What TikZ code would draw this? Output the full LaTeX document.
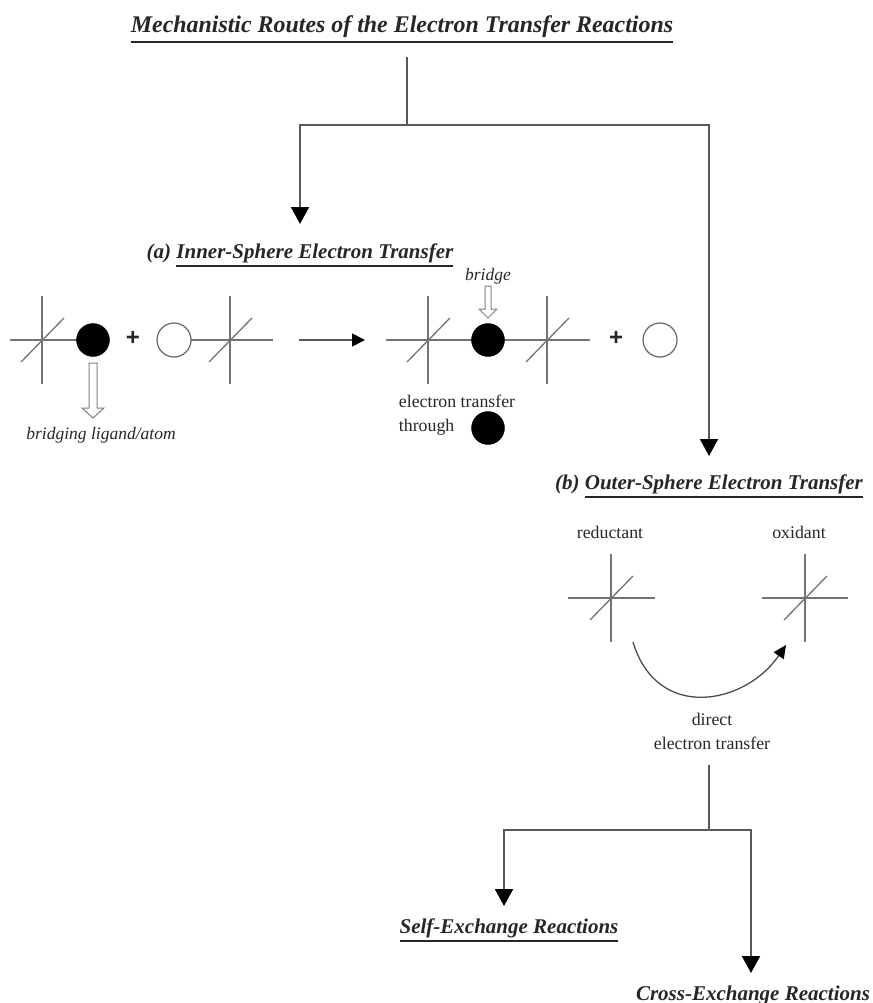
\documentclass[tikz,border=0pt]{standalone}
\usepackage{fontspec}
\setmainfont{Liberation Serif}
\newfontfamily\plusfont{Liberation Sans}
\newcommand{\thickline}[1]{\vtop{\hbox{#1}\kern3pt\hrule height 2pt}}
\usetikzlibrary{arrows.meta}
\begin{document}
\begin{tikzpicture}[x=1pt, y=-1pt, font=\fontsize{14}{17}\selectfont, text=black!85]
    \tikzstyle{flowline}=[draw=black!65, line width=2pt]
    \tikzstyle{flowarrow}=[flowline, -{Triangle[length=17pt, width=18pt, color=black]}]
    \tikzstyle{bond}=[draw=black!55, line width=1.8pt]
    \tikzstyle{thinbond}=[draw=black!55, line width=1.3pt]
    \tikzstyle{hollow}=[draw=black!50, line width=1pt, fill=white]
    \tikzstyle{fullatom}=[circle, fill=black, draw=black, inner sep=0pt, minimum size=33pt]
    \tikzstyle{openatom}=[circle, fill=white, draw=black!60, line width=1.2pt, inner sep=0pt, minimum size=34pt]
    \tikzstyle{heading}=[anchor=base, font=\fontsize{21}{24}\selectfont\bfseries\itshape]
    \tikzstyle{note}=[font=\fontsize{17.5}{20}\selectfont\itshape]
    \tikzstyle{plain}=[align=center, font=\fontsize{17.8}{24}\selectfont]
    \tikzstyle{plussign}=[font=\fontsize{24}{24}\selectfont\plusfont\bfseries]

    \useasboundingbox (0,0) rectangle (872,1003);

    % headings
    \node[heading, font=\fontsize{23.9}{26}\selectfont\bfseries\itshape] (title) at (402,33) {\thickline{Mechanistic Routes of the Electron Transfer Reactions}};
    \node[heading] (inner) at (300,258) {(a) \thickline{Inner-Sphere Electron Transfer}};
    \node[heading] (outer) at (709,489) {(b) \thickline{Outer-Sphere Electron Transfer}};
    \node[heading] (self) at (509,933) {\thickline{Self-Exchange Reactions}};
    \node[heading] (cross) at (753,1000) {\thickline{Cross-Exchange Reactions}};

    % top branching
    \coordinate (top) at (407,57);
    \coordinate (fork) at (407,125);
    \coordinate (forkl) at (300,125);
    \coordinate (forkr) at (709,125);
    \coordinate (innerend) at (300,224);
    \coordinate (outerend) at (709,456);
    \draw[flowline] (top) -- (fork);
    \draw[flowarrow] (fork) -- (forkl) -- (innerend);
    \draw[flowarrow] (fork) -- (forkr) -- (outerend);

    % metal centres
    \foreach \name/\cx/\cy in {m1/42/340, m2/230/340, m3/428/340, m4/547/340, red/611/598, ox/805/598} {
        \coordinate (\name) at (\cx,\cy);
        \draw[bond] (\cx,\cy-44) -- (\cx,\cy+44);
        \draw[thinbond] (\cx-21,\cy+22) -- (\cx+22,\cy-22);
    }

    % inner sphere
    \coordinate (m1l) at (10,340);
    \coordinate (m2r) at (273,340);
    \coordinate (m3l) at (386,340);
    \coordinate (m4r) at (590,340);
    \draw[bond] (m1l) -- (93,340);
    \draw[bond] (174,340) -- (m2r);
    \draw[bond] (m3l) -- (m4r);
    \node[fullatom] (a1) at (93,340) {};
    \node[openatom] (a2) at (174,340) {};
    \node[fullatom] (a3) at (488,340) {};
    \node[openatom] (a4) at (660,340) {};
    \node[fullatom] (a5) at (488,428) {};
    \node[plussign] (plus1) at (133,338) {+};
    \node[plussign] (plus2) at (616,338) {+};

    \coordinate (rxnl) at (299,340);
    \coordinate (rxnr) at (365,340);
    \draw[flowline, line width=1.6pt, -{Triangle[length=13pt, width=13pt, color=black]}] (rxnl) -- (rxnr);

    % hollow arrows
    \draw[hollow] (89,363) -- (97,363) -- (97,408) -- (104,408) -- (93,418) -- (82,408) -- (89,408) -- cycle;
    \draw[hollow] (485,286) -- (491,286) -- (491,309) -- (497,309) -- (488,318) -- (479,309) -- (485,309) -- cycle;

    \node[note] (bridging) at (101,435) {bridging ligand/atom};
    \node[note] (bridge) at (488,276) {bridge};
    \node[plain, align=left] (through) at (457,415) {electron transfer\\through};

    % outer sphere
    \draw[bond] (568,598) -- (655,598);
    \draw[bond] (762,598) -- (848,598);
    \node[plain] (reductant) at (610,532) {reductant};
    \node[plain] (oxidant) at (799,532) {oxidant};
    \coordinate (swingl) at (633,642);
    \coordinate (swingr) at (786,645);
    \draw[thinbond, draw=black!70, -{Triangle[length=13pt, width=12pt, color=black]}] (swingl) .. controls (657,722) and (745,705) .. (swingr);
    \node[plain] (direct) at (712,731) {direct\\electron transfer};

    % lower branching
    \coordinate (low) at (709,765);
    \coordinate (lowfork) at (709,830);
    \coordinate (lowl) at (504,830);
    \coordinate (lowr) at (751,830);
    \coordinate (selfend) at (504,906);
    \coordinate (crossend) at (751,973);
    \draw[flowline] (low) -- (lowfork);
    \draw[flowarrow] (lowfork) -- (lowl) -- (selfend);
    \draw[flowarrow] (lowfork) -- (lowr) -- (crossend);
\end{tikzpicture}
\end{document}
